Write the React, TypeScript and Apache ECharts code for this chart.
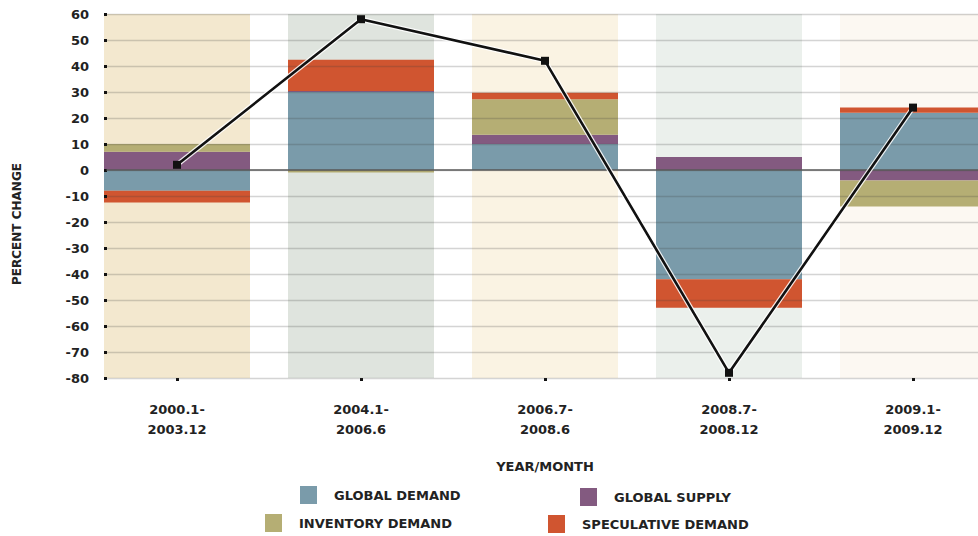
import React, { useEffect, useRef } from "react";
import * as echarts from "echarts";

// Periods (two-line labels)
const periods = [
  "2000.1-\n2003.12",
  "2004.1-\n2006.6",
  "2006.7-\n2008.6",
  "2008.7-\n2008.12",
  "2009.1-\n2009.12",
];

// Contribution of each factor to the percent change
const globalDemand = [-8, 30, 10, -42, 22];
const globalSupply = [7, 0.4, 3.6, 5, -4];
const inventoryDemand = [3, -1, 13.6, 0, -10];
const speculativeDemand = [-4.5, 12, 2.5, -11, 2];

// Total percent change per period
const totalChange = [2, 58, 42, -78, 24];

// Shaded period bands
const bandTop = [60, 60, 60, 60, 60];
const bandBottom = [-80, -80, -80, -80, -80];
const bandColors = ["#F3E8CF", "#DFE4DE", "#FAF3E3", "#EBF0EC", "#FCF8F2"];

const seriesNames = ["GLOBAL DEMAND", "GLOBAL SUPPLY", "INVENTORY DEMAND", "SPECULATIVE DEMAND"];
const seriesColors = ["#7A9BAA", "#835A80", "#B5AE74", "#D05530"];

const Y_MIN = -80;
const Y_MAX = 60;
const FONT = "DejaVu Sans";

export default function App() {
  const ref = useRef<HTMLDivElement>(null);

  useEffect(() => {
    if (!ref.current) return;
    const chart = echarts.init(ref.current, null, { renderer: "svg" });

    const BAR_W = 146;
    const stackValues = [globalDemand, globalSupply, inventoryDemand, speculativeDemand];

    const legendPos = [
      { left: 300, top: 486 },
      { left: 580, top: 488 },
      { left: 265, top: 514 },
      { left: 548, top: 515 },
    ];

    const labelText = {
      color: "#222",
      fontFamily: FONT,
      fontWeight: "bold",
      fontSize: 13,
    };

    const option: any = {
      animation: false,
      backgroundColor: "#ffffff",
      grid: [
        // value scale, gridlines and zero line
        { left: 107, right: 0, top: 14, bottom: 158, containLabel: false, outerBoundsMode: "none" },
        // period columns
        { left: 85, width: 920, top: 14, bottom: 158, containLabel: false, outerBoundsMode: "none" },
      ],
      xAxis: [
        {
          gridIndex: 0,
          type: "value",
          min: 0,
          max: 1,
          z: 6,
          axisLine: { show: true, onZero: true, lineStyle: { color: "#5a5a5a", width: 1.6 } },
          axisTick: { show: false },
          axisLabel: { show: false },
          splitLine: { show: false },
        },
        {
          gridIndex: 1,
          type: "category",
          data: periods,
          boundaryGap: true,
          position: "bottom",
          axisLine: { show: false, onZero: false },
          axisTick: {
            show: true,
            alignWithLabel: true,
            length: 3,
            lineStyle: { color: "#111", width: 3 },
          },
          axisLabel: { ...labelText, margin: 21, lineHeight: 20 },
          name: "YEAR/MONTH",
          nameLocation: "middle",
          nameGap: 82,
          nameTextStyle: { ...labelText },
        },
      ],
      yAxis: [
        {
          gridIndex: 0,
          type: "value",
          min: Y_MIN,
          max: Y_MAX,
          interval: 10,
          z: 5,
          axisLine: { show: false },
          axisTick: { show: true, length: 3, lineStyle: { color: "#111", width: 3 } },
          axisLabel: { ...labelText, margin: 18 },
          splitLine: { show: true, lineStyle: { color: "rgba(60,60,60,0.22)", width: 1.4 } },
          name: "PERCENT CHANGE",
          nameLocation: "middle",
          nameGap: 84,
          nameRotate: 90,
          nameTextStyle: { ...labelText, fontSize: 12, padding: [0, 56, 0, 0] },
        },
        {
          gridIndex: 1,
          type: "value",
          min: Y_MIN,
          max: Y_MAX,
          show: false,
          splitLine: { show: false },
        },
      ],
      legend: seriesNames.map((name, i) => ({
        data: [{ name, icon: "rect" }],
        left: legendPos[i].left,
        top: legendPos[i].top,
        itemWidth: 17,
        itemHeight: 18,
        padding: 0,
        selectedMode: false,
        textStyle: { ...labelText, padding: [0, 0, 0, 12] },
      })),
      series: [
        {
          type: "bar",
          name: "band-top",
          xAxisIndex: 1,
          yAxisIndex: 1,
          stack: "band",
          barWidth: BAR_W,
          barGap: "-100%",
          silent: true,
          z: 1,
          data: bandTop.map((v, i) => ({ value: v, itemStyle: { color: bandColors[i] } })),
        },
        {
          type: "bar",
          name: "band-bottom",
          xAxisIndex: 1,
          yAxisIndex: 1,
          stack: "band",
          barWidth: BAR_W,
          barGap: "-100%",
          silent: true,
          z: 1,
          data: bandBottom.map((v, i) => ({ value: v, itemStyle: { color: bandColors[i] } })),
        },
        ...seriesNames.map((name, i) => ({
          type: "bar",
          name,
          xAxisIndex: 1,
          yAxisIndex: 1,
          stack: "factors",
          barWidth: BAR_W,
          barGap: "-100%",
          z: 2,
          itemStyle: { color: seriesColors[i] },
          data: stackValues[i],
        })),
        {
          type: "line",
          name: "total-halo",
          xAxisIndex: 1,
          yAxisIndex: 1,
          z: 9,
          silent: true,
          symbol: "none",
          lineStyle: { color: "rgba(255,255,255,0.85)", width: 5 },
          data: totalChange,
        },
        {
          type: "line",
          name: "total",
          xAxisIndex: 1,
          yAxisIndex: 1,
          z: 10,
          symbol: "rect",
          symbolSize: 8,
          itemStyle: { color: "#111" },
          lineStyle: { color: "#111", width: 2.6 },
          data: totalChange,
        },
      ],
    };

    chart.setOption(option);
    return () => chart.dispose();
  }, []);

  return (
    <div
      ref={ref}
      style={{ position: "absolute", left: 0, top: 0, width: 978, height: 536, overflow: "hidden" }}
    />
  );
}
